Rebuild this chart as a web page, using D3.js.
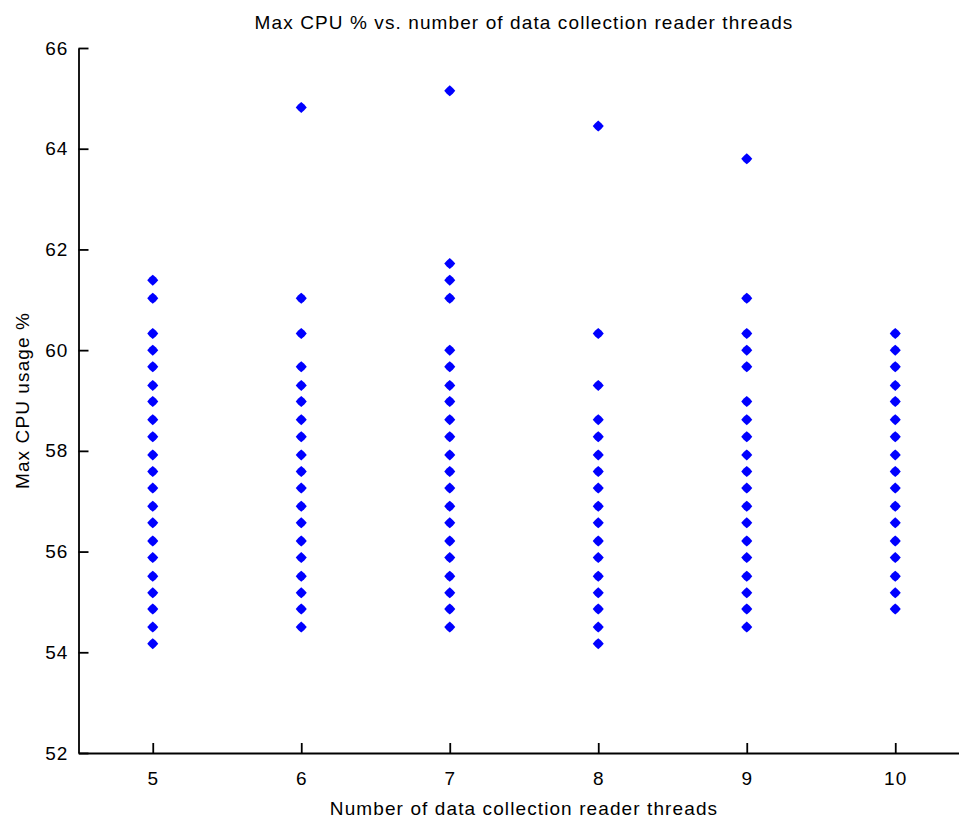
<!DOCTYPE html>
<html>
<head>
<meta charset="utf-8">
<script src="https://cdn.jsdelivr.net/npm/d3@7"></script>
<style>
  html, body { margin: 0; padding: 0; background: #fff; }
  svg { display: block; }
  text { font-family: "Liberation Sans", Arial, Helvetica, sans-serif; fill: #000; }
</style>
</head>
<body>
<script>
// Thread counts on the x axis
const threadCounts = [5, 6, 7, 8, 9, 10];

// Max CPU % readings for each thread count
const cpu5  = [61.39, 61.03, 60.33, 60.0, 59.67, 59.3, 58.98, 58.62, 58.28, 57.92, 57.59, 57.26, 56.9, 56.57, 56.21, 55.88, 55.51, 55.18, 54.86, 54.5, 54.17];
const cpu6  = [64.82, 61.03, 60.33, 59.67, 59.3, 58.98, 58.62, 58.28, 57.92, 57.59, 57.26, 56.9, 56.57, 56.21, 55.88, 55.51, 55.18, 54.86, 54.5];
const cpu7  = [65.15, 61.72, 61.39, 61.03, 60.0, 59.67, 59.3, 58.98, 58.62, 58.28, 57.92, 57.59, 57.26, 56.9, 56.57, 56.21, 55.88, 55.51, 55.18, 54.86, 54.5];
const cpu8  = [64.45, 60.33, 59.3, 58.62, 58.28, 57.92, 57.59, 57.26, 56.9, 56.57, 56.21, 55.88, 55.51, 55.18, 54.86, 54.5, 54.17];
const cpu9  = [63.8, 61.03, 60.33, 60.0, 59.67, 58.98, 58.62, 58.28, 57.92, 57.59, 57.26, 56.9, 56.57, 56.21, 55.88, 55.51, 55.18, 54.86, 54.5];
const cpu10 = [60.33, 60.0, 59.67, 59.3, 58.98, 58.62, 58.28, 57.92, 57.59, 57.26, 56.9, 56.57, 56.21, 55.88, 55.51, 55.18, 54.86];

// Tick values
const xTicks = [5, 6, 7, 8, 9, 10];
const yTicks = [52, 54, 56, 58, 60, 62, 64, 66];

const title = "Max CPU % vs. number of data collection reader threads";
const xLabel = "Number of data collection reader threads";
const yLabel = "Max CPU usage %";

const W = 959, H = 822;
const plotLeft = 78.5, plotRight = 969.5, plotTop = 48, plotBottom = 753;

const seriesByThread = [cpu5, cpu6, cpu7, cpu8, cpu9, cpu10];
const points = [];
threadCounts.forEach((t, i) => seriesByThread[i].forEach(v => points.push({ t, v })));

const x = d3.scaleLinear().domain([4.5, 10.5]).range([plotLeft, plotRight]);
const y = d3.scaleLinear().domain([52, 66]).range([plotBottom, plotTop]);

const svg = d3.select("body").append("svg")
  .attr("width", W).attr("height", H);

svg.append("rect").attr("width", W).attr("height", H).attr("fill", "#fff");

const fontSize = 19;
const spacing = "1.1px";
const tickLen = 10;

// x axis (ticks point inward)
const xAxis = svg.append("g")
  .attr("transform", `translate(0,${plotBottom})`)
  .call(d3.axisBottom(x).tickValues(xTicks).tickSize(-tickLen).tickPadding(19).tickSizeOuter(0).tickFormat(d3.format("d")));

// y axis (ticks point inward)
const yAxis = svg.append("g")
  .attr("transform", `translate(${plotLeft},0)`)
  .call(d3.axisLeft(y).tickValues(yTicks).tickSize(-tickLen).tickPadding(10).tickSizeOuter(0).tickFormat(d3.format("d")));

[xAxis, yAxis].forEach(g => {
  g.select(".domain").attr("stroke", "#000").attr("stroke-width", 1.8);
  g.selectAll(".tick line").attr("stroke", "#000").attr("stroke-width", 1.8);
  g.selectAll(".tick text").attr("font-size", fontSize).attr("fill", "#000")
    .style("letter-spacing", spacing)
    .style("font-family", '"Liberation Sans", Arial, sans-serif');
});

// Markers: small filled diamonds
svg.append("g").selectAll("path")
  .data(points)
  .join("path")
  .attr("d", "M0,-5.5 L3,-2.9 L5.5,0 L3,2.9 L0,5.5 L-3,2.9 L-5.5,0 L-3,-2.9 Z")
  .attr("transform", d => `translate(${x(d.t)},${y(d.v)})`)
  .attr("fill", "#0000ff");

// Title and axis labels
svg.append("text")
  .attr("x", (plotLeft + plotRight) / 2).attr("y", 29)
  .attr("text-anchor", "middle").attr("font-size", fontSize)
  .style("letter-spacing", spacing)
  .text(title);

svg.append("text")
  .attr("x", (plotLeft + plotRight) / 2).attr("y", 815)
  .attr("text-anchor", "middle").attr("font-size", fontSize)
  .style("letter-spacing", spacing)
  .text(xLabel);

svg.append("text")
  .attr("transform", `translate(29,${(plotTop + plotBottom) / 2}) rotate(-90)`)
  .attr("text-anchor", "middle").attr("font-size", fontSize)
  .style("letter-spacing", spacing)
  .text(yLabel);
</script>
</body>
</html>
